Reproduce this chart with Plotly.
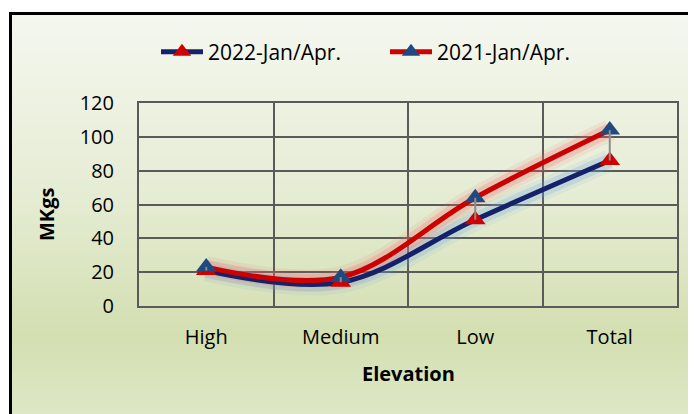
import plotly.graph_objects as go

categories = ["High", "Medium", "Low", "Total"]
series_2022 = [21, 14, 51, 86]
series_2021 = [23, 17, 64, 104]
name_2022 = "2022-Jan/Apr."
name_2021 = "2021-Jan/Apr."
y_ticks = [0, 20, 40, 60, 80, 100, 120]

W, H = 696, 414
OFF = 8  # page body margin offset
L, R, T, B = 139 - OFF, 677 - OFF, 103 - OFF, 306 - OFF

def px(x):
    return (x - OFF - L) / (R - L)

def py(y):
    return (B - (y - OFF)) / (B - T)

FONT = "Open Sans"
NAVY = "#15226a"
RED = "#cc0000"
BLUE_MK = "#1f4a80"
RED_MK = "#d00000"
GRID = "#5a5a5a"

fig = go.Figure()

# glow layers
for w, a in [(22, 0.10), (14, 0.22)]:
    fig.add_trace(go.Scatter(x=categories, y=series_2022, mode="lines",
                             line=dict(color="rgba(110,165,225,%.2f)" % a, width=w, shape="spline", smoothing=1.0),
                             showlegend=False, hoverinfo="skip"))
for w, a in [(22, 0.10), (14, 0.22)]:
    fig.add_trace(go.Scatter(x=categories, y=series_2021, mode="lines",
                             line=dict(color="rgba(240,100,100,%.2f)" % a, width=w, shape="spline", smoothing=1.0),
                             showlegend=False, hoverinfo="skip"))

fig.add_trace(go.Scatter(x=categories, y=series_2022, mode="lines+markers", name=name_2022,
                         legend="legend",
                         line=dict(color=NAVY, width=5, shape="spline", smoothing=1.0),
                         marker=dict(symbol="triangle-up", size=18, color=RED_MK, line=dict(width=0))))
fig.add_trace(go.Scatter(x=categories, y=series_2021, mode="lines+markers", name=name_2021,
                         legend="legend2",
                         line=dict(color=RED, width=5, shape="spline", smoothing=1.0),
                         marker=dict(symbol="triangle-up", size=18, color=BLUE_MK, line=dict(width=0))))

# high-low lines
hx, hy = [], []
for c, a, b in zip(categories, series_2022, series_2021):
    hx += [c, c, None]
    hy += [min(a, b), max(a, b), None]
fig.add_trace(go.Scatter(x=hx, y=hy, mode="lines", line=dict(color="#8c8c8c", width=2),
                         showlegend=False, hoverinfo="skip"))

# gradient background stripes (reference pixel coordinates)
stops = [(13, (245, 247, 239)), (200, (229, 236, 211)), (335, (211, 223, 177)), (414, (222, 231, 198))]

def col_at(y):
    for (y0, c0), (y1, c1) in zip(stops[:-1], stops[1:]):
        if y0 <= y <= y1:
            t = (y - y0) / (y1 - y0)
            return "rgb(%d,%d,%d)" % tuple(round(c0[i] + (c1[i] - c0[i]) * t) for i in range(3))
    return "rgb(%d,%d,%d)" % stops[-1][1]

shapes = []
for y0 in range(13, 430, 4):
    shapes.append(dict(type="rect", xref="paper", yref="paper", layer="below",
                       x0=px(10), x1=px(730), y0=py(y0), y1=py(y0 + 4.5),
                       fillcolor=col_at(y0 + 2), line=dict(width=0)))
shapes.append(dict(type="rect", xref="paper", yref="paper", layer="below",
                   x0=px(10.5), x1=px(740), y0=py(13.5), y1=py(450),
                   fillcolor="rgba(0,0,0,0)", line=dict(color="black", width=3)))

annotations = [
    dict(text="<b>MKgs</b>", xref="paper", yref="paper", x=px(46), y=py(215),
         xanchor="center", yanchor="middle",
         textangle=-90, showarrow=False, font=dict(family=FONT, size=20, color="black")),
    dict(text="<b>Elevation</b>", xref="paper", yref="paper", x=px(408), y=py(373),
         xanchor="center", yanchor="middle",
         showarrow=False, font=dict(family=FONT, size=20, color="black")),
]

leg_common = dict(orientation="h", xanchor="left", yanchor="middle",
                  font=dict(family=FONT, size=21, color="black"), bgcolor="rgba(0,0,0,0)",
                  itemwidth=42)

fig.update_layout(
    width=W, height=H,
    margin=dict(l=L, r=W - R, t=T, b=H - B),
    paper_bgcolor="white",
    plot_bgcolor="rgba(0,0,0,0)",
    font=dict(family=FONT, size=20, color="black"),
    shapes=shapes,
    annotations=annotations,
    legend=dict(x=px(156), y=py(52), **leg_common),
    legend2=dict(x=px(385), y=py(52), **leg_common),
    xaxis=dict(type="category", range=[-0.5, 3.5], tickson="boundaries", showgrid=True,
               gridcolor=GRID, gridwidth=2,
               showline=True, linecolor=GRID, linewidth=2, mirror=True, ticks="",
               ticklabelstandoff=12, tickfont=dict(family=FONT, size=20)),
    yaxis=dict(range=[0, 120], tickvals=y_ticks, showgrid=True, gridcolor=GRID, gridwidth=2,
               showline=True, linecolor=GRID, linewidth=2, mirror=True, zeroline=False,
               ticks="", ticklabelstandoff=19, tickfont=dict(family=FONT, size=20)),
)

fig.write_html("out.html")
